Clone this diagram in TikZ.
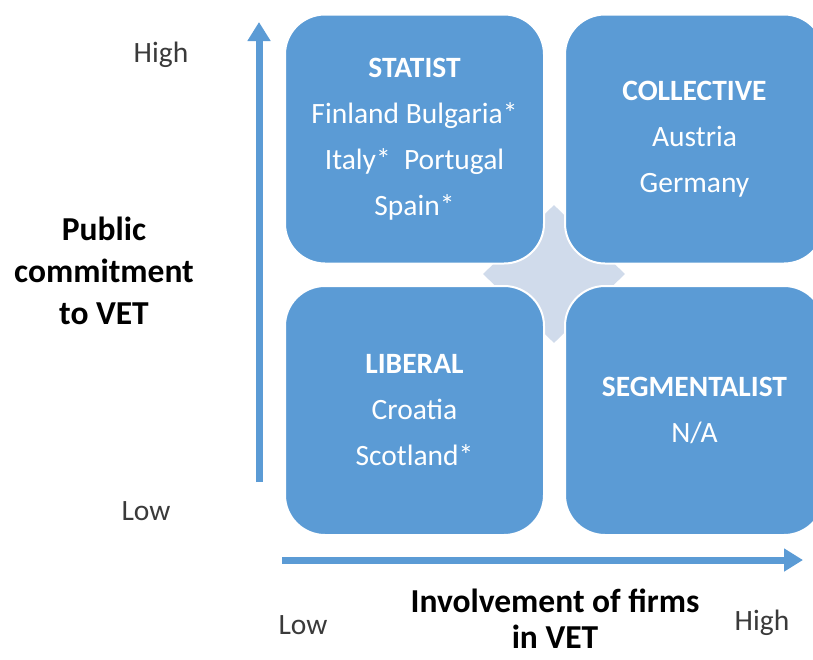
\documentclass[tikz,border=0pt]{standalone}
\usepackage{fontspec}
\setmainfont{Carlito}
\usetikzlibrary{arrows.meta,shapes.geometric}
\definecolor{tileblue}{HTML}{5B9BD5}
\definecolor{crossgray}{HTML}{D0DBEB}
\definecolor{labelgray}{HTML}{3A3A3A}
\tikzset{
  quad/.style={draw=white,line width=2pt,fill=tileblue,rectangle,rounded corners=40pt,
    minimum width=259pt,minimum height=249pt,text=white,align=center,
    font={\fontsize{29.5}{46}\selectfont}},
  axis/.style={draw=tileblue,line width=7pt,-{Triangle[width=22pt,length=19pt]}},
  endlabel/.style={text=labelgray,font={\fontsize{29.5}{36}\selectfont}},
  axistitle/.style={align=center,font={\bfseries\fontsize{33.5}{42}\selectfont}}
}
\begin{document}
\begin{tikzpicture}[x=1pt,y=-1pt]
\useasboundingbox (0,0) rectangle (813,659);

\node[diamond,fill=crossgray,minimum width=142pt,minimum height=138pt,inner sep=0pt] (cross) at (554,274) {};

\node[quad] (statist) at (414.5,139) {\textbf{STATIST}\\Finland Bulgaria*\\Italy*~~Portugal\\Spain*};
\node[quad] (collective) at (694.5,139) {\textbf{COLLECTIVE}\\Austria\\Germany};
\node[quad] (liberal) at (414.5,410.5) {\textbf{LIBERAL}\\Croatia\\Scotland*};
\node[quad] (segmentalist) at (694.5,410.5) {\textbf{SEGMENTALIST}\\N/A};

\coordinate (vbottom) at (259,482);
\coordinate (vtop) at (259,22);
\coordinate (hleft) at (282,560);
\coordinate (hright) at (803,560);
\draw[axis] (vbottom) -- (vtop);
\draw[axis] (hleft) -- (hright);

\node[endlabel] (vhigh) at (161,55) {High};
\node[endlabel] (vlow) at (146,511) {Low};
\node[endlabel] (hlow) at (303,625) {Low};
\node[endlabel] (hhigh) at (762,623) {High};

\node[axistitle] (public) at (104,271) {Public\\commitment\\to VET};
\node[axistitle,font={\bfseries\fontsize{33.5}{36}\selectfont}] (firms) at (555,619) {Involvement of firms\\in VET};

\end{tikzpicture}
\end{document}
